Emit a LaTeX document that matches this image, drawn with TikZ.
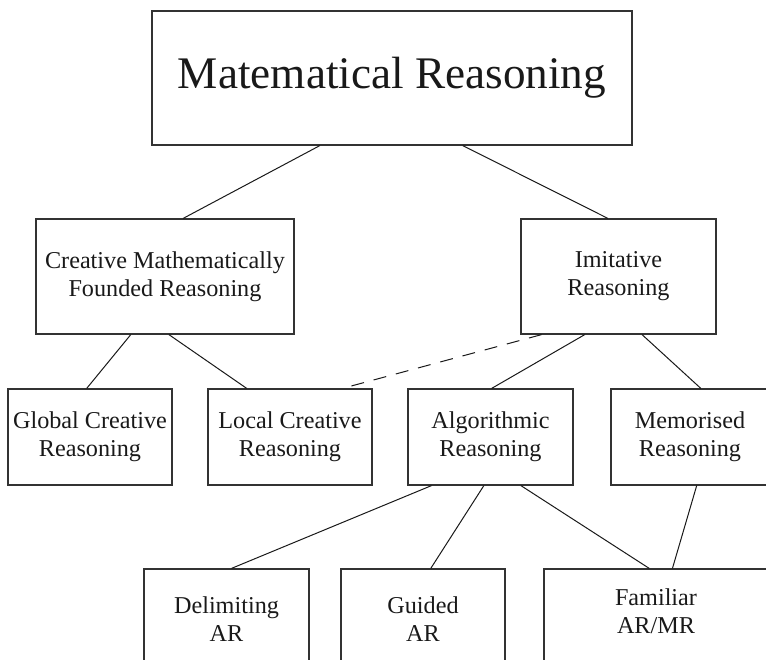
\documentclass[tikz,border=0pt]{standalone}
\usepackage{fontspec}
\setmainfont{Liberation Serif}
\usetikzlibrary{calc}
\begin{document}
\begin{tikzpicture}[x=0.5pt,y=-0.5pt,
  box/.style={draw=black!80, line width=0.6pt, inner sep=0pt, align=center,
    text=black!90, font=\fontsize{12.1pt}{14pt}\selectfont},
  link/.style={draw=black!90, line width=0.5pt},
  dlink/.style={link, dash pattern=on 6.5pt off 5pt}]
\useasboundingbox (0,0) rectangle (766,659);
\clip (0,0) rectangle (766,659);
% nodes
\node[box, minimum width=240pt, minimum height=67pt, font=\fontsize{22.6pt}{27pt}\selectfont] (mr) at (392,78) {Matematical Reasoning};
\node[box, minimum width=129pt, minimum height=57.5pt] (cmfr) at (165,276.5) {Creative Mathematically\\Founded Reasoning};
\node[box, minimum width=97.5pt, minimum height=57.5pt] (ir) at (618.5,276.5) {Imitative\\Reasoning};
\node[box, minimum width=82pt, minimum height=48pt] (gcr) at (90,437) {Global Creative\\Reasoning};
\node[box, minimum width=82pt, minimum height=48pt] (lcr) at (290,437) {Local Creative\\Reasoning};
\node[box, minimum width=82.5pt, minimum height=48pt] (ar) at (490.5,437) {Algorithmic\\Reasoning};
\node[box, minimum width=79pt, minimum height=48pt] (mem) at (690,437) {Memorised\\Reasoning};
\node[box, minimum width=82.5pt, minimum height=50pt] (dar) at (226.5,619) {Delimiting\\AR};
\node[box, minimum width=82pt, minimum height=50pt] (gar) at (423,619) {Guided\\AR};
\node[box, minimum width=112pt, minimum height=50pt] (fam) at (656,619) {Familiar\\AR/MR\rule[-7.5pt]{0pt}{7.5pt}};
% connectors
\draw[link] ($(mr.south west)!0.35!(mr.south east)$) -- ($(cmfr.north west)!0.57!(cmfr.north east)$);
\draw[link] ($(mr.south west)!0.647!(mr.south east)$) -- ($(ir.north west)!0.446!(ir.north east)$);
\draw[link] ($(cmfr.south west)!0.368!(cmfr.south east)$) -- ($(gcr.north west)!0.48!(gcr.north east)$);
\draw[link] ($(cmfr.south west)!0.515!(cmfr.south east)$) -- ($(lcr.north west)!0.238!(lcr.north east)$);
\draw[dlink] ($(ir.south west)!0.108!(ir.south east)$) -- ($(lcr.north west)!0.817!(lcr.north east)$);
\draw[link] ($(ir.south west)!0.328!(ir.south east)$) -- ($(ar.north west)!0.507!(ar.north east)$);
\draw[link] ($(ir.south west)!0.62!(ir.south east)$) -- ($(mem.north west)!0.568!(mem.north east)$);
\draw[link] ($(ar.south west)!0.145!(ar.south east)$) -- ($(dar.north west)!0.53!(dar.north east)$);
\draw[link] ($(ar.south west)!0.46!(ar.south east)$) -- ($(gar.north west)!0.547!(gar.north east)$);
\draw[link] ($(ar.south west)!0.683!(ar.south east)$) -- ($(fam.north west)!0.47!(fam.north east)$);
\draw[link] ($(mem.south west)!0.542!(mem.south east)$) -- ($(fam.north west)!0.573!(fam.north east)$);
\end{tikzpicture}
\end{document}
